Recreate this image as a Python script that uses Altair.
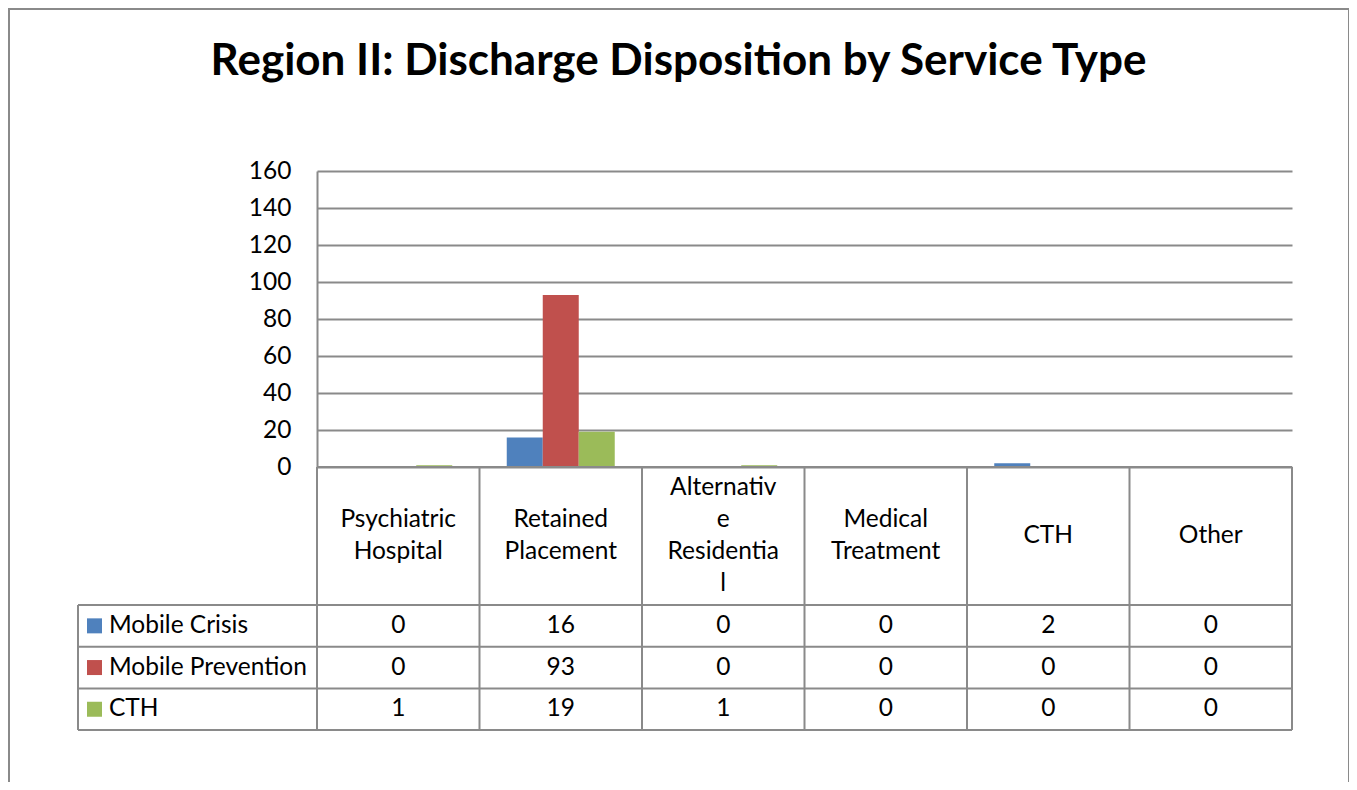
import altair as alt
import pandas as pd

# ---- data ----
categories = ["Psychiatric Hospital", "Retained Placement", "Alternative Residential",
              "Medical Treatment", "CTH", "Other"]
header_labels = ["Psychiatric\nHospital", "Retained\nPlacement", "Alternativ\ne\nResidentia\nl",
                 "Medical\nTreatment", "CTH", "Other"]
series = ["Mobile Crisis", "Mobile Prevention", "CTH"]
mobile_crisis = [0, 16, 0, 0, 2, 0]
mobile_prevention = [0, 93, 0, 0, 0, 0]
cth = [1, 19, 1, 0, 0, 0]
series_colors = ["#4F81BD", "#C0504D", "#9BBB59"]
y_ticks = [0, 20, 40, 60, 80, 100, 120, 140, 160]
title_text = "Region II: Discharge Disposition by Service Type"

# ---- layout (style) ----
W, H = 975, 296
YMAX = 160
U = YMAX / H              # data units per pixel
HEADER_H = 138
ROW_H = 41.7
LEGEND_W = 239
LINE_H = 32
LINE = "#8a8a8a"
FONT = "Lato"
FS = 24.5

values = [mobile_crisis, mobile_prevention, cth]
rows = []
for k, (s, vals) in enumerate(zip(series, values)):
    for c, v in zip(categories, vals):
        rows.append({"category": c, "series": s, "value": v,
                     "ty": -(HEADER_H + ROW_H * (k + 0.5)) * U})
df = pd.DataFrame(rows)

hdr = pd.DataFrame({
    "category": categories,
    "label": header_labels,
    "ty": [(-(HEADER_H / 2) + (lab.count("\n") * LINE_H / 2)) * U for lab in header_labels],
})
leg = pd.DataFrame({"series": series,
                    "ty": [-(HEADER_H + ROW_H * (k + 0.5)) * U for k in range(len(series))]})
hlines = pd.DataFrame({"ty": [-(HEADER_H + ROW_H * k) * U for k in range(len(series) + 1)]})
vlines = pd.DataFrame({"category": categories})
bottom = -(HEADER_H + ROW_H * len(series)) * U

xscale = alt.Scale(type="band", domain=categories, paddingInner=0, paddingOuter=0)
yscale = alt.Scale(domain=[0, YMAX], nice=False, zero=False)
cscale = alt.Scale(domain=series, range=series_colors)
yaxis = alt.Axis(values=y_ticks, title=None, ticks=False, domain=True,
                 domainColor=LINE, domainWidth=2, grid=True, gridColor=LINE,
                 gridWidth=2, labelFont=FONT, labelFontSize=FS, labelColor="#000",
                 labelPadding=26, labelOverlap=False)


def Y(*args, **kw):
    return alt.Y(*args, scale=yscale, axis=yaxis, **kw)


def X(*args, **kw):
    return alt.X(*args, scale=xscale, axis=None, **kw)


bars = alt.Chart(df).mark_bar().encode(
    x=X("category:N", sort=categories),
    xOffset=alt.XOffset("series:N", scale=alt.Scale(domain=series, paddingInner=0, paddingOuter=0.757)),
    y=Y("value:Q"),
    color=alt.Color("series:N", scale=cscale, legend=None),
)

header_text = alt.Chart(hdr).mark_text(font=FONT, fontSize=FS, lineBreak="\n",
                                       lineHeight=LINE_H, baseline="middle", color="#000").encode(
    x=X("category:N", sort=categories),
    y=Y("ty:Q"),
    text="label:N",
)

value_text = alt.Chart(df).mark_text(font=FONT, fontSize=FS, baseline="middle", color="#000").encode(
    x=X("category:N", sort=categories),
    y=Y("ty:Q"),
    text="value:Q",
)

legend_text = alt.Chart(leg).mark_text(font=FONT, fontSize=FS, baseline="middle", align="left",
                                       color="#000", dx=-208).encode(
    x=X(datum=categories[0], bandPosition=0),
    y=Y("ty:Q"),
    text="series:N",
)

legend_swatch = alt.Chart(leg).mark_square(size=225, opacity=1, xOffset=-222.5).encode(
    x=X(datum=categories[0], bandPosition=0),
    y=Y("ty:Q"),
    color=alt.Color("series:N", scale=cscale, legend=None),
)

row_lines = alt.Chart(hlines).mark_rule(color=LINE, strokeWidth=2, xOffset=-LEGEND_W).encode(
    x=X(datum=categories[0], bandPosition=0),
    x2=alt.X2(datum=categories[-1], bandPosition=1),
    y=Y("ty:Q"),
)

header_top = alt.Chart(hlines).mark_rule(color=LINE, strokeWidth=2).encode(
    x=X(datum=categories[0], bandPosition=0),
    x2=alt.X2(datum=categories[-1], bandPosition=1),
    y=Y(datum=0),
)

col_lines_left = alt.Chart(vlines).mark_rule(color=LINE, strokeWidth=2).encode(
    x=X("category:N", bandPosition=0, sort=categories),
    y=Y(datum=0),
    y2=alt.Y2(datum=bottom),
)
col_line_right = alt.Chart(vlines).mark_rule(color=LINE, strokeWidth=2).encode(
    x=X(datum=categories[-1], bandPosition=1),
    y=Y(datum=0),
    y2=alt.Y2(datum=bottom),
)
legend_left = alt.Chart(vlines).mark_rule(color=LINE, strokeWidth=2, xOffset=-LEGEND_W).encode(
    x=X(datum=categories[0], bandPosition=0),
    y=Y(datum=-HEADER_H * U),
    y2=alt.Y2(datum=bottom),
)

frame = alt.Chart(vlines).mark_rect(fill=None, stroke=LINE, strokeWidth=2).encode(
    x=alt.value(-308), x2=alt.value(1032), y=alt.value(-162), y2=alt.value(640),
)

chart = alt.layer(
    frame, bars, header_top, row_lines, col_lines_left, col_line_right, legend_left,
    header_text, value_text, legend_swatch, legend_text,
).properties(
    width=W, height=H,
    title=alt.TitleParams(title_text, font=FONT, fontSize=44, fontWeight="bold", color="#000",
                          anchor="middle", frame="group", dx=-126, dy=80),
    padding={"left": 309, "top": 163, "right": 57, "bottom": 315},
    autosize=alt.AutoSizeParams(type="none"),
).configure(background="white").configure_view(stroke="transparent", strokeWidth=0)

chart.save("out.html", embed_options={"renderer": "svg", "actions": False})
